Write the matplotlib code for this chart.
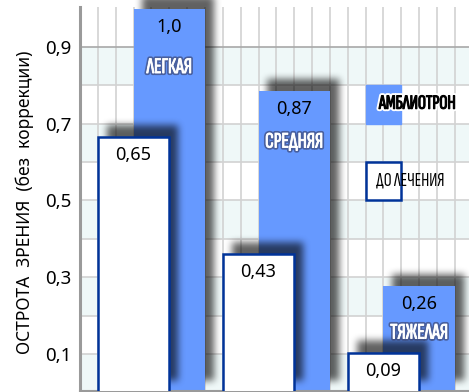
import numpy as np
import matplotlib.pyplot as plt
import matplotlib.patheffects as pe

# данные (высоты столбиков, подписи - как на ней)
categories = ['ЛЕГКАЯ', 'СРЕДНЯЯ', 'ТЯЖЕЛАЯ']
after_heights = [1.0, 0.785, 0.277]
after_labels = ['1,0', '0,87', '0,26']
before_heights = [0.665, 0.36, 0.103]
before_labels = ['0,65', '0,43', '0,09']
yticks = [0.1, 0.3, 0.5, 0.7, 0.9]
ytick_labels = ['0,1', '0,3', '0,5', '0,7', '0,9']
legend_labels = ['АМБЛИОТРОН', 'ДО ЛЕЧЕНИЯ']
ylabel = 'ОСТРОТА  ЗРЕНИЯ  (без  коррекции)'

BLUE = '#6699ff'
NAVY = '#003399'
W, H = 469, 392
CELL = 17.85      # px per grid cell along x
PY = 383.75       # px per unit along y
NARROW = ['Sofia Sans Extra Condensed', 'Roboto Condensed', 'DejaVu Sans']

plt.rcParams['font.family'] = ['Noto Sans', 'DejaVu Sans']


def blur(a, r, passes=3):
    k = np.ones(2 * r + 1) / (2 * r + 1)
    for _ in range(passes):
        a = np.apply_along_axis(lambda m: np.convolve(m, k, mode='same'), 0, a)
        a = np.apply_along_axis(lambda m: np.convolve(m, k, mode='same'), 1, a)
    return a


def shadow(ax, lefts, heights, width, zorder, dx=9, dy=12, alpha=0.62):
    x0, x1, y0, y1 = -1.0, 24.0, -0.05, 1.08
    nx, ny = int((x1 - x0) * CELL), int((y1 - y0) * PY)
    xs = x0 + (np.arange(nx) + 0.5) / CELL
    ys = y0 + (np.arange(ny) + 0.5) / PY
    X, Y = np.meshgrid(xs, ys)
    m = np.zeros_like(X)
    for l, h in zip(lefts, heights):
        sx, sy = l + dx / CELL, dy / PY
        m[(X >= sx) & (X <= sx + width) & (Y >= sy) & (Y <= h + sy)] = 1.0
    m = blur(m, 3)
    rgba = np.zeros((ny, nx, 4))
    rgba[..., 3] = m * alpha
    ax.imshow(rgba, extent=(x0, x1, y0, y1), origin='lower', aspect='auto',
              interpolation='bilinear', zorder=zorder, clip_on=False)


fig = plt.figure(figsize=(W / 100, H / 100), dpi=100)
ax = fig.add_axes([80 / W, 1.5 / H, 389 / W, 383.5 / H])

idx = np.arange(len(categories))
white_left = 1 + 7 * idx
blue_left = 3 + 7 * idx
bw = 4

# полосы и сетка
for y in np.arange(0, 0.9, 0.2):
    ax.axhspan(y, y + 0.1, color='#eff8f8', lw=0, zorder=0)
for x in range(1, 22):
    ax.axvline(x, color='#d2d2d2', lw=1.2, zorder=0.5)
for y in np.arange(0.1, 0.95, 0.1):
    ax.axhline(y, color='#a8a8a8' if y > 0.85 else '#d2d2d2', lw=1.2, zorder=0.5)

shadow(ax, blue_left, after_heights, bw, zorder=1)
ax.bar(blue_left, after_heights, width=bw, align='edge', color=BLUE, zorder=2)
shadow(ax, white_left, before_heights, bw, zorder=3)
ax.bar(white_left, before_heights, width=bw, align='edge', color='white',
       edgecolor=NAVY, linewidth=1.8, zorder=4)

cat_fx = [pe.Stroke(linewidth=3, foreground='#39416a', alpha=0.65),
          pe.Stroke(linewidth=0.6, foreground='white'), pe.Normal()]
cat_dy = [-59, -51, -47]
for i in idx:
    cx = blue_left[i] + bw / 2
    ax.annotate(after_labels[i], (cx, after_heights[i]), xytext=(0, -18),
                textcoords='offset pixels', ha='center', va='center', fontsize=13, zorder=6)
    ax.annotate(categories[i], (cx, after_heights[i]), xytext=(0, cat_dy[i]),
                textcoords='offset pixels', ha='center', va='center', fontsize=16,
                family=NARROW, color='white', path_effects=cat_fx, zorder=6)
    ax.annotate(before_labels[i], (white_left[i] + bw / 2, before_heights[i]), xytext=(0, -18),
                textcoords='offset pixels', ha='center', va='center', fontsize=13, zorder=6)

# легенда
ax.add_patch(plt.Rectangle((16, 0.7), 2, 0.1, color=BLUE, zorder=4))
ax.add_patch(plt.Rectangle((16, 0.5), 2, 0.1, facecolor='white', edgecolor=NAVY, lw=1.8, zorder=4))
ax.text(18.9, 0.752, legend_labels[0], ha='center', va='center', fontsize=14.5,
        family=NARROW, zorder=6,
        path_effects=[pe.Stroke(linewidth=3.5, foreground='white'),
                      pe.Stroke(linewidth=0.8, foreground='black'), pe.Normal()])
ax.text(18.5, 0.551, legend_labels[1], ha='center', va='center', fontsize=14,
        family=NARROW, zorder=6)

ax.set_xlim(0, 389 / CELL)
ax.set_ylim(0.005, 1.004)
ax.set_xticks([])
ax.set_yticks(yticks, ytick_labels, fontsize=13.5)
ax.tick_params(axis='y', length=0, pad=6)
for s in ['top', 'right']:
    ax.spines[s].set_visible(False)
ax.spines['left'].set_color('#9a9a9a')
ax.spines['left'].set_linewidth(2.2)
ax.spines['bottom'].set_color('#9a9a9a')
ax.spines['bottom'].set_linewidth(1.5)

fig.text(25 / W, 1 - 202 / H, ylabel, rotation=90, ha='center', va='center', fontsize=12.5)

fig.savefig('out.png', dpi=100)
